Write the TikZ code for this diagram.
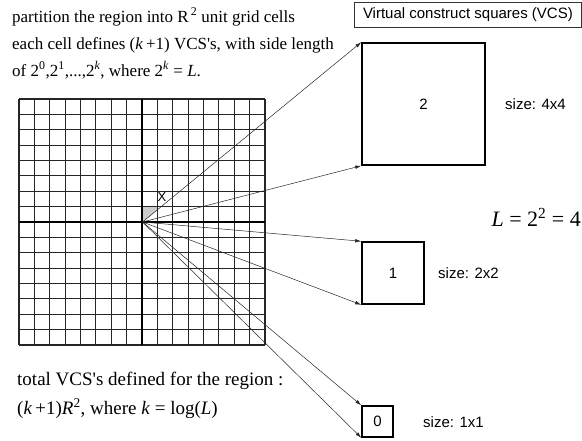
\documentclass[tikz,border=0pt]{standalone}
\usepackage{fontspec}
\setmainfont{Liberation Serif}
\setsansfont{Liberation Sans}
\usetikzlibrary{arrows.meta}
\newcommand{\sq}{\textquotesingle}
\begin{document}
\begin{tikzpicture}[x=1pt,y=-1pt,
  gridline/.style={line width=1.2pt,draw=black!85},
  axisline/.style={line width=1.6pt,draw=black},
  vcs/.style={draw=black,line width=1.5pt,inner sep=0pt,font=\sffamily\fontsize{15}{15}\selectfont},
  ray/.style={line width=0.5pt,draw=black!85,-{Latex[length=6pt,width=3.5pt]}},
  toptext/.style={anchor=base west,inner sep=0pt,font=\fontsize{17}{17}\selectfont},
  bottext/.style={anchor=base west,inner sep=0pt,font=\fontsize{19}{19}\selectfont},
  sizelabel/.style={anchor=west,inner sep=0pt,font=\sffamily\fontsize{15}{15}\selectfont}]
\useasboundingbox (0,0) rectangle (582,440);
% shaded cell part
\fill[black!20] (142.5,222) -- (142.5,206.6) -- (157.9,206.6) -- (157.9,209.7) -- cycle;
% grid
\foreach \i in {0,...,16}{
  \draw[gridline] ({19+\i*15.375},99) -- ({19+\i*15.375},345);
  \draw[gridline] (19,{99+\i*15.375}) -- (265,{99+\i*15.375});
}
\draw[axisline] (142,99) -- (142,345);
\draw[axisline] (19,222) -- (265,222);
\coordinate (c) at (142.5,222);
\node[font=\sffamily\fontsize{13}{13}\selectfont,inner sep=0pt] (x) at (162,197) {X};
% texts
\node[toptext] (t1) at (12,22) {partition the region into R\textsuperscript{\,2} unit grid cells};
\node[toptext] (t2) at (12,49) {each cell defines (\textit{k}\,+1) VCS\sq s, with side length};
\node[toptext] (t3) at (12,76) {of 2\textsuperscript{0},2\textsuperscript{1},...,2\textsuperscript{\textit{k}}, where 2\textsuperscript{\textit{k}} = \textit{L}.};
\node[bottext] (b1) at (17,385) {total VCS\sq s defined for the region :};
\node[bottext] (b2) at (17,414) {(\textit{k}\,+1)\textit{R}\textsuperscript{2}, where \textit{k} = log(\textit{L})};
\node[anchor=base east,inner sep=0pt,font=\fontsize{22}{22}\selectfont] (eq) at (581,226) {\textit{L} = 2\textsuperscript{2} = 4};
% title
\node[draw=black!80,line width=0.8pt,anchor=north west,minimum width=227pt,minimum height=25pt,inner sep=0pt,font=\sffamily\fontsize{15}{15}\selectfont] (title) at (354,2) {Virtual construct squares (VCS)};
% squares
\node[vcs,minimum width=123pt,minimum height=122pt] (s2) at (423.5,104) {2};
\node[vcs,minimum width=62pt,minimum height=62pt] (s1) at (393,273) {1};
\node[vcs,minimum width=31pt,minimum height=31pt] (s0) at (377.5,421.5) {0};
\node[sizelabel] (z2) at (505,104) {size: 4x4};
\node[sizelabel] (z1) at (438,273) {size: 2x2};
\node[sizelabel] (z0) at (423,422) {size: 1x1};
% rays
\draw[ray] (c) -- (s2.north west);
\draw[ray] (c) -- (s2.south west);
\draw[ray] (c) -- (s1.north west);
\draw[ray] (c) -- (s1.south west);
\draw[ray] (c) -- (s0.north west);
\draw[ray] (c) -- (s0.south west);
\end{tikzpicture}
\end{document}
